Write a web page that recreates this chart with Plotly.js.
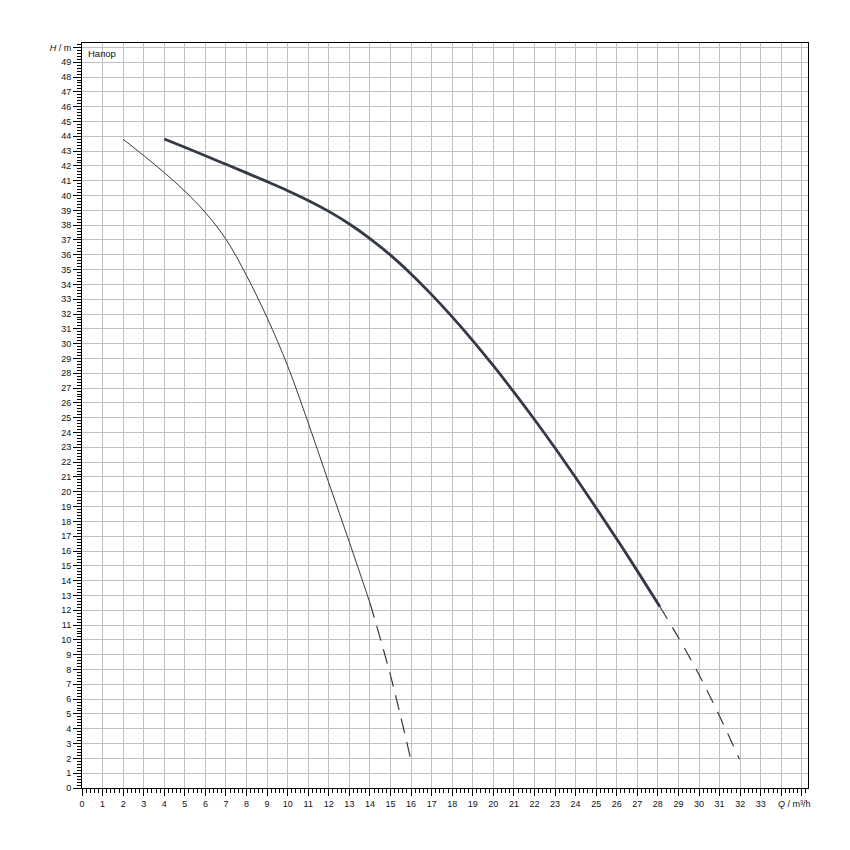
<!DOCTYPE html>
<html>
<head>
<meta charset="utf-8">
<script src="https://cdn.plot.ly/plotly-3.0.1.min.js"></script>
<style>html,body{margin:0;padding:0;background:#fff;}</style>
</head>
<body>
<div id="chart" style="width:850px;height:850px;"></div>
<script>
// Curve 1 (thin) – solid part
const thinQ = [2, 3, 4, 5, 6, 7, 8, 9, 10, 11, 12, 13, 14];
const thinH = [43.8, 42.7, 41.55, 40.3, 38.85, 37.05, 34.6, 31.75, 28.5, 24.65, 20.6, 16.6, 12.5];
// Curve 1 (thin) – dashed extension
const thinDashQ = [14, 15, 16.05];
const thinDashH = [12.5, 7.6, 1.55];
// Curve 2 (thick) – solid part
const thickQ = [4, 5, 6, 7, 8, 9, 10, 11, 12, 13, 14, 15, 16, 17, 18, 19, 20, 21, 22, 23, 24, 25, 26, 27, 28.1];
const thickH = [43.82, 43.26, 42.69, 42.11, 41.53, 40.94, 40.33, 39.67, 38.93, 38.08, 37.1, 35.98, 34.71, 33.31, 31.81, 30.21, 28.51, 26.73, 24.88, 22.96, 20.96, 18.91, 16.81, 14.66, 12.24];
// Curve 2 (thick) – dashed extension
const thickDashQ = [28.1, 29, 30, 31, 31.97];
const thickDashH = [12.24, 10.15, 7.65, 4.85, 1.94];

const xTickVals = [];
const xTickText = [];
for (let i = 0; i <= 35; i++) { xTickVals.push(i); xTickText.push(i <= 33 ? String(i) : ''); }
const yTickVals = [];
const yTickText = [];
for (let i = 0; i <= 50; i++) { yTickVals.push(i); yTickText.push(i <= 49 ? String(i) : '<i>H</i> / m'); }

const lineColor = '#333a46';
const traces = [
  {x: thinQ, y: thinH, mode: 'lines', line: {color: lineColor, width: 1, shape: 'spline', smoothing: 1}, hoverinfo: 'none'},
  {x: thinDashQ, y: thinDashH, mode: 'lines', line: {color: lineColor, width: 1.2, dash: '15px,9px', shape: 'spline', smoothing: 1}, hoverinfo: 'none'},
  {x: thickQ, y: thickH, mode: 'lines', line: {color: lineColor, width: 2.8, shape: 'spline', smoothing: 1}, hoverinfo: 'none'},
  {x: thickDashQ, y: thickDashH, mode: 'lines', line: {color: lineColor, width: 1.2, dash: '14px,10px', shape: 'spline', smoothing: 1}, hoverinfo: 'none'}
];

const tickFont = {family: 'Liberation Sans, Arial, sans-serif', size: 9, color: '#111'};
const layout = {
  width: 850, height: 850,
  margin: {l: 82, r: 42, t: 43, b: 62},
  paper_bgcolor: '#fff', plot_bgcolor: '#fff',
  showlegend: false,
  font: tickFont,
  xaxis: {
    range: [0, 35.3], tickmode: 'array', tickvals: xTickVals, ticktext: xTickText,
    showgrid: true, gridcolor: '#c0c0c0', gridwidth: 1,
    showline: true, linecolor: '#000', linewidth: 1, mirror: true,
    ticks: 'outside', ticklen: 7, tickcolor: '#000', tickwidth: 1,
    minor: {tickmode: 'linear', tick0: 0, dtick: 0.2, ticks: 'outside', ticklen: 4, tickcolor: '#000', tickwidth: 1, showgrid: false},
    tickfont: tickFont, zeroline: false, fixedrange: true
  },
  yaxis: {
    range: [0, 50.3], tickmode: 'array', tickvals: yTickVals, ticktext: yTickText,
    showgrid: true, gridcolor: '#c0c0c0', gridwidth: 1,
    showline: true, linecolor: '#000', linewidth: 1, mirror: true,
    ticks: 'outside', ticklen: 8, tickcolor: '#000', tickwidth: 1,
    minor: {tickmode: 'linear', tick0: 0, dtick: 0.2, ticks: 'outside', ticklen: 4, tickcolor: '#000', tickwidth: 1, showgrid: false},
    tickfont: tickFont, zeroline: false, fixedrange: true
  },
  annotations: [
    {text: 'Напор', xref: 'paper', yref: 'paper', x: 0, y: 1, xanchor: 'left', yanchor: 'top', xshift: 4, yshift: -3, showarrow: false, font: {family: 'Liberation Sans, Arial, sans-serif', size: 9.5, color: '#111'}},
    {text: '<i>Q</i> / m³/h', xref: 'x', yref: 'paper', x: 34, y: 0, xanchor: 'left', yanchor: 'top', xshift: -5, yshift: -9, showarrow: false, font: tickFont}
  ]
};
Plotly.newPlot('chart', traces, layout, {staticPlot: true, displayModeBar: false});
</script>
</body>
</html>
